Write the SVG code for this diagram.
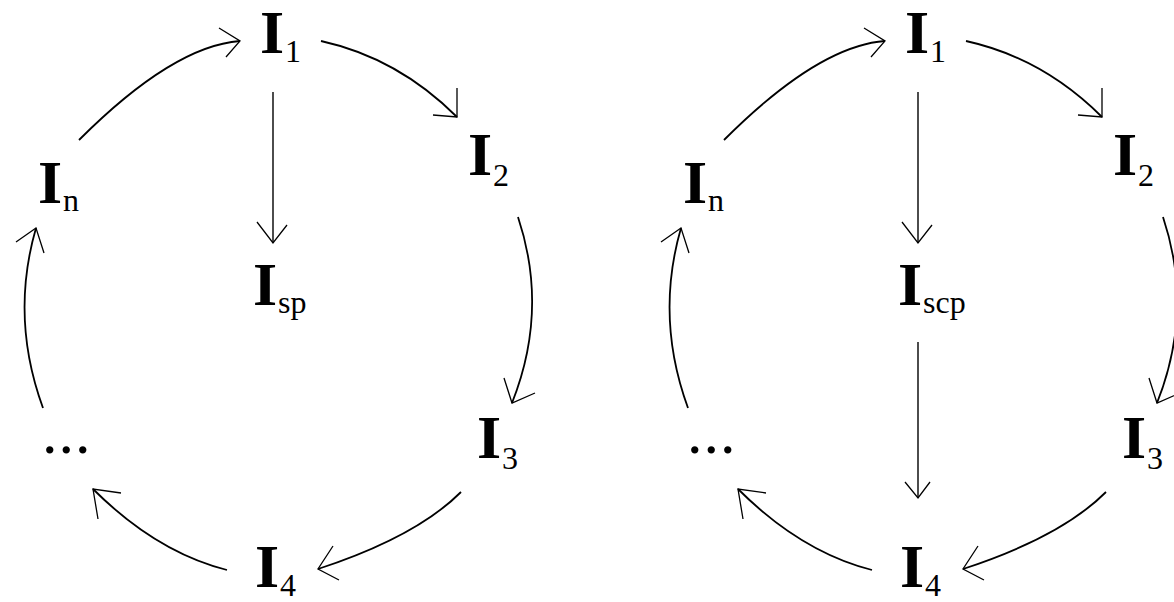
<svg xmlns="http://www.w3.org/2000/svg" width="1174" height="602" viewBox="0 0 1174 602">
<style>
.bg{fill:#ffffff}
.arc{fill:none;stroke:#000;stroke-width:1.8}
.ln{fill:none;stroke:#000;stroke-width:1.4}
.hd{fill:none;stroke:#000;stroke-width:1.3;stroke-linejoin:miter}
.big{font-family:"Liberation Serif",serif;font-weight:bold;font-size:62px;fill:#000}
.sub{font-family:"Liberation Serif",serif;font-size:32px;fill:#000}
.dots{font-family:"Liberation Serif",serif;font-size:62px;letter-spacing:1px;fill:#000}
</style>
<rect class="bg" x="0" y="0" width="1174" height="602"/>

<g id="left-diagram">
  <g id="left-connectors">
    <path class="arc" d="M79,140 Q173,46 240,41"/>
    <path class="hd" d="M219,28 L240,41 L226,57"/>
    <path class="arc" d="M321,41 Q398,58 457,117"/>
    <path class="hd" d="M457,88 L457,117 L433,115"/>
    <path class="arc" d="M518,217 Q549,310 512,403"/>
    <path class="hd" d="M504,378 L512,403 L535,393"/>
    <path class="arc" d="M461,492 Q416,537 318,569"/>
    <path class="hd" d="M333,546 L318,569 L339,580"/>
    <path class="arc" d="M227,570 Q156,552 93,489"/>
    <path class="hd" d="M121,493 L93,489 L98,519"/>
    <path class="arc" d="M43,408 Q10,318 36,228"/>
    <path class="hd" d="M16,242 L36,228 L44,253"/>
    <path class="ln" d="M273,92 L273,243"/>
    <path class="hd" d="M257,222 L273,243 L287,225"/>
  </g>
  <g id="L-I1"><text class="big" x="260" y="53">I</text><text class="sub" x="285" y="62">1</text></g>
  <g id="L-I2"><text class="big" x="468" y="175">I</text><text class="sub" x="493" y="186">2</text></g>
  <g id="L-I3"><text class="big" x="477" y="458">I</text><text class="sub" x="502" y="469">3</text></g>
  <g id="L-I4"><text class="big" x="255" y="587">I</text><text class="sub" x="280" y="596">4</text></g>
  <g id="L-dots"><text class="dots" x="42" y="453">...</text></g>
  <g id="L-In"><text class="big" x="38" y="203">I</text><text class="sub" x="63" y="211">n</text></g>
  <g id="L-Isp"><text class="big" x="253" y="305">I</text><text class="sub" x="278" y="313">sp</text></g>
</g>

<g id="right-diagram" transform="translate(645,0)">
  <g id="right-connectors">
    <path class="arc" d="M79,140 Q173,46 240,41"/>
    <path class="hd" d="M219,28 L240,41 L226,57"/>
    <path class="arc" d="M321,41 Q398,58 457,117"/>
    <path class="hd" d="M457,88 L457,117 L433,115"/>
    <path class="arc" d="M518,217 Q549,310 512,403"/>
    <path class="hd" d="M504,378 L512,403 L535,393"/>
    <path class="arc" d="M461,492 Q416,537 318,569"/>
    <path class="hd" d="M333,546 L318,569 L339,580"/>
    <path class="arc" d="M227,570 Q156,552 93,489"/>
    <path class="hd" d="M121,493 L93,489 L98,519"/>
    <path class="arc" d="M43,408 Q10,318 36,228"/>
    <path class="hd" d="M16,242 L36,228 L44,253"/>
    <path class="ln" d="M273,92 L273,243"/>
    <path class="hd" d="M257,222 L273,243 L287,225"/>
    <path class="ln" d="M273,342 L273,498"/>
    <path class="hd" d="M260,482 L273,498 L285,482"/>
  </g>
  <g id="R-I1"><text class="big" x="260" y="53">I</text><text class="sub" x="285" y="62">1</text></g>
  <g id="R-I2"><text class="big" x="468" y="175">I</text><text class="sub" x="493" y="186">2</text></g>
  <g id="R-I3"><text class="big" x="477" y="458">I</text><text class="sub" x="502" y="469">3</text></g>
  <g id="R-I4"><text class="big" x="255" y="587">I</text><text class="sub" x="280" y="596">4</text></g>
  <g id="R-dots"><text class="dots" x="42" y="453">...</text></g>
  <g id="R-In"><text class="big" x="38" y="203">I</text><text class="sub" x="63" y="211">n</text></g>
  <g id="R-Iscp"><text class="big" x="253" y="305">I</text><text class="sub" x="278" y="313">scp</text></g>
</g>
</svg>
